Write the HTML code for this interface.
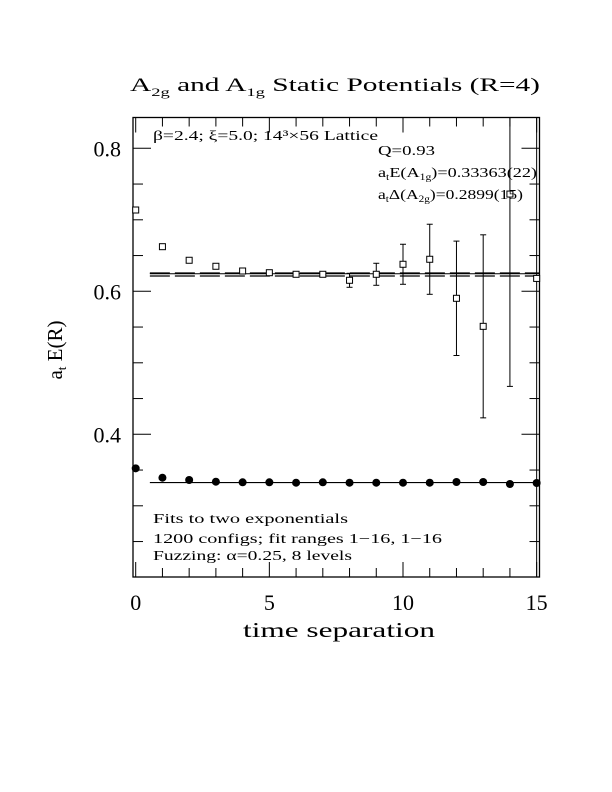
<!DOCTYPE html>
<html><head><meta charset="utf-8"><style>
html,body{margin:0;padding:0;background:#fff;}
svg{display:block;font-family:"Liberation Serif",serif;}
</style></head><body>
<svg id="chart" width="612" height="792" viewBox="0 0 612 792" xmlns="http://www.w3.org/2000/svg">
<text x="130" y="91" font-size="19" textLength="410" lengthAdjust="spacingAndGlyphs">A<tspan font-size="12" dy="5">2g</tspan><tspan dy="-5"> and A</tspan><tspan font-size="12" dy="5">1g</tspan><tspan dy="-5"> Static Potentials (R=4)</tspan></text>
<g id="axes"></g>
<g id="marks"></g>
<text x="153" y="140" font-size="14" textLength="225" lengthAdjust="spacingAndGlyphs">β=2.4; ξ=5.0; 14³×56 Lattice</text>
<text x="378" y="155" font-size="14" textLength="57" lengthAdjust="spacingAndGlyphs">Q=0.93</text>
<text x="378" y="177" font-size="14" textLength="159" lengthAdjust="spacingAndGlyphs">a<tspan font-size="9" dy="3">t</tspan><tspan dy="-3">E(A</tspan><tspan font-size="9" dy="3">1g</tspan><tspan dy="-3">)=0.33363(22)</tspan></text>
<text x="378" y="199" font-size="14" textLength="145" lengthAdjust="spacingAndGlyphs">a<tspan font-size="9" dy="3">t</tspan><tspan dy="-3">Δ(A</tspan><tspan font-size="9" dy="3">2g</tspan><tspan dy="-3">)=0.2899(15)</tspan></text>
<text x="153" y="523" font-size="14" textLength="195" lengthAdjust="spacingAndGlyphs">Fits to two exponentials</text>
<text x="153" y="543" font-size="14" textLength="289" lengthAdjust="spacingAndGlyphs">1200 configs; fit ranges 1−16, 1−16</text>
<text x="153" y="560" font-size="14" textLength="199" lengthAdjust="spacingAndGlyphs">Fuzzing: α=0.25, 8 levels</text>
<text x="243" y="637" font-size="21" textLength="192" lengthAdjust="spacingAndGlyphs">time separation</text>
<text transform="translate(62,350) rotate(-90)" font-size="21" text-anchor="middle">a<tspan font-size="13" dy="4">t</tspan><tspan dy="-4"> E(R)</tspan></text>
</svg>
<script>
const xTicks=[0,5,10,15];
const yTicks=[0.4,0.6,0.8];
const yTickLabels=["0.4","0.6","0.8"];
const tA1g=[0,1,2,3,4,5,6,7,8,9,10,11,12,13,14,15];
const eA1g=[0.3524,0.3393,0.3361,0.3337,0.3329,0.3329,0.3323,0.3329,0.3323,0.3323,0.3323,0.3323,0.3333,0.3333,0.3305,0.3319];
const tA2g=[0,1,2,3,4,5,6,7,8,9,10,11,12,13,14,15];
const eA2g=[0.7137,0.6624,0.6434,0.635,0.6284,0.626,0.6238,0.6238,0.6154,0.6238,0.6378,0.6448,0.5902,0.551,0.736,0.618];
const errA2g=[0.001,0.001,0.001,0.001,0.002,0.002,0.003,0.004,0.0098,0.0154,0.028,0.049,0.08,0.128,0.269,0.5];
const fitA1g=0.3325;
const fitA2g=0.6246;
const fitA2gLow=0.6214;

const X0=133,X1=539.5,Y0=117.5,Y1=577;
const xs=v=>135.7+v*26.73;
const ys=v=>291.3-(v-0.6)*715;
const NS="http://www.w3.org/2000/svg";
const axes=document.getElementById('axes');
const marks=document.getElementById('marks');
function mk(tag,attrs,parent){const e=document.createElementNS(NS,tag);for(const k in attrs)e.setAttribute(k,attrs[k]);parent.appendChild(e);return e;}

let f=mk('rect',{x:X0,y:Y0,width:X1-X0,height:Y1-Y0,fill:'none',stroke:'#000','stroke-width':1.3},axes);


for(let t=0;t<=15;t++){
  const major=xTicks.includes(t);const L=major?15:9;const x=xs(t);
  let a=mk('line',{x1:x,x2:x,y1:Y1,y2:Y1-L,stroke:'#000','stroke-width':1},axes);
  
  
  let b=mk('line',{x1:x,x2:x,y1:Y0,y2:Y0+L,stroke:'#000','stroke-width':1},axes);
  
  
}
xTicks.forEach(t=>{
  let tx=mk('text',{x:xs(t),y:610,'font-size':22,'text-anchor':'middle'},axes);
  tx.textContent=String(t);
  
  
});
for(let i=4;i<=16;i++){
  const v=i*0.05;const y=ys(v);if(y<Y0||y>Y1)continue;
  const major=yTicks.some(m=>Math.abs(m-v)<1e-6);const L=major?18:10;
  let a=mk('line',{x1:X0,x2:X0+L,y1:y,y2:y,stroke:'#000','stroke-width':1},axes);
  
  
  let b=mk('line',{x1:X1,x2:X1-L,y1:y,y2:y,stroke:'#000','stroke-width':1},axes);
  
  
}
yTicks.forEach((v,i)=>{
  let tx=mk('text',{x:121,y:ys(v)+8,'font-size':22,'text-anchor':'end'},axes);
  tx.textContent=yTickLabels[i];
  
  
});
let fl=mk('line',{x1:xs(0.53),x2:X1,y1:ys(fitA1g),y2:ys(fitA1g),stroke:'#000','stroke-width':1.2},marks);


let f2=mk('line',{x1:xs(0.53),x2:X1,y1:ys(fitA2g),y2:ys(fitA2g),stroke:'#000','stroke-width':1},marks);


let f3=mk('line',{x1:xs(0.53),x2:X1,y1:ys(fitA2g)-0.5,y2:ys(fitA2g)-0.5,stroke:'#000','stroke-width':1.6,'stroke-dasharray':'20 5'},marks);


let f4=mk('line',{x1:xs(0.53),x2:X1,y1:ys(fitA2gLow),y2:ys(fitA2gLow),stroke:'#000','stroke-width':1.2,'stroke-dasharray':'20 5'},marks);


const clip=y=>Math.max(Y0,Math.min(Y1,y));
tA2g.forEach((t,i)=>{
  const x=xs(t),y=ys(eA2g[i]);
  const yt=clip(ys(eA2g[i]+errA2g[i])),yb=clip(ys(eA2g[i]-errA2g[i]));
  if(errA2g[i]>0.004){
    let e=mk('line',{x1:x,x2:x,y1:yt,y2:yb,stroke:'#000','stroke-width':1},marks);
    
    
    [yt,yb].forEach(c=>{if(c>Y0&&c<Y1){let cap=mk('line',{x1:x-3,x2:x+3,y1:c,y2:c,stroke:'#000','stroke-width':1},marks);
      
      }});
  }
  let s=mk('rect',{x:x-3,y:y-3,width:6,height:6,fill:'#fff',stroke:'#000','stroke-width':1},marks);
  
  
});
tA1g.forEach((t,i)=>{
  let c=mk('circle',{cx:xs(t),cy:ys(eA1g[i]),r:4,fill:'#000'},marks);
  
  
});
</script>
</body></html>
